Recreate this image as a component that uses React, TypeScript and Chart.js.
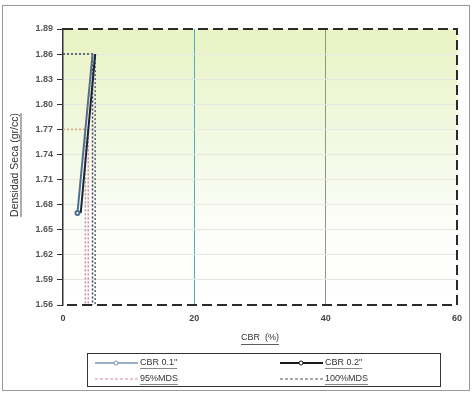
import React, { useEffect, useRef } from "react";
import { Chart, registerables } from "chart.js";

Chart.register(...registerables);

const xTicks = [0, 20, 40, 60];
const yTicks = [1.56, 1.59, 1.62, 1.65, 1.68, 1.71, 1.74, 1.77, 1.8, 1.83, 1.86, 1.89];
const cbr01X = [2.2, 4.5];
const cbr01Y = [1.67, 1.86];
const cbr02X = [2.7, 4.9];
const cbr02Y = [1.67, 1.86];
const mds95X = [0, 3.4, 3.4];
const mds95Y = [1.77, 1.77, 1.56];
const mds95bX = [3.85, 3.85];
const mds95bY = [1.77, 1.56];
const mds100X = [0, 4.5, 4.5];
const mds100Y = [1.86, 1.86, 1.56];
const mds100bX = [4.9, 4.9];
const mds100bY = [1.86, 1.56];
const legendLabels = ['CBR 0.1"', 'CBR 0.2"', "95%MDS", "100%MDS"];

const pts = (xs: number[], ys: number[]) => xs.map((x, i) => ({ x, y: ys[i] }));

const FONT = "'Liberation Sans', Arial, sans-serif";

const decorPlugin = {
  id: "decor",
  beforeDraw(chart: any) {
    const { ctx, chartArea: a } = chart;
    ctx.save();
    ctx.fillStyle = "#ffffff";
    ctx.fillRect(0, 0, chart.width, chart.height);
    const g = ctx.createLinearGradient(0, a.top, 0, a.bottom);
    g.addColorStop(0, "#e9f3c3");
    g.addColorStop(0.45, "#f4f9e6");
    g.addColorStop(0.75, "#fdfefb");
    g.addColorStop(1, "#ffffff");
    ctx.fillStyle = g;
    ctx.fillRect(a.left, a.top, a.right - a.left, a.bottom - a.top);
    ctx.strokeStyle = "#9a9a9a";
    ctx.lineWidth = 1;
    ctx.strokeRect(2.5, 5.5, 467, 385);
    ctx.restore();
  },
  afterDraw(chart: any) {
    const { ctx, chartArea: a } = chart;
    ctx.save();
    ctx.strokeStyle = "#2b2b2b";
    ctx.lineWidth = 2;
    ctx.setLineDash([10, 5]);
    ctx.beginPath();
    ctx.moveTo(a.left, a.top);
    ctx.lineTo(a.right, a.top);
    ctx.lineTo(a.right, a.bottom);
    ctx.lineTo(a.left, a.bottom);
    ctx.stroke();
    ctx.setLineDash([]);
    // x title
    ctx.fillStyle = "#333";
    ctx.font = `9px ${FONT}`;
    ctx.textAlign = "center";
    ctx.textBaseline = "middle";
    const tx = (a.left + a.right) / 2;
    ctx.fillText("CBR  (%)", tx, 338);
    const tw = ctx.measureText("CBR  (%)").width;
    ctx.lineWidth = 0.8;
    ctx.strokeStyle = "#333";
    ctx.beginPath();
    ctx.moveTo(tx - tw / 2, 344.5);
    ctx.lineTo(tx + tw / 2, 344.5);
    ctx.stroke();
    // y title
    ctx.save();
    ctx.translate(15, 165);
    ctx.rotate(-Math.PI / 2);
    ctx.font = `10.5px ${FONT}`;
    const yt = "Densidad Seca (gr/cc)";
    ctx.fillText(yt, 0, 0);
    const yw = ctx.measureText(yt).width;
    ctx.beginPath();
    ctx.moveTo(-yw / 2, 6);
    ctx.lineTo(yw / 2, 6);
    ctx.stroke();
    ctx.restore();
    // legend box
    ctx.strokeStyle = "#333";
    ctx.lineWidth = 1;
    ctx.strokeRect(87.5, 353.5, 353, 33);
    const items = [
      { x: 95, y: 363, color: "#7a97b5", dash: [] as number[], marker: true, label: legendLabels[0], w: 1.5 },
      { x: 280, y: 363, color: "#1a1a1a", dash: [] as number[], marker: true, label: legendLabels[1], w: 2 },
      { x: 95, y: 379, color: "#d9869e", dash: [3, 2], marker: false, label: legendLabels[2], w: 1 },
      { x: 280, y: 379, color: "#555", dash: [3, 2], marker: false, label: legendLabels[3], w: 1 },
    ];
    ctx.textAlign = "left";
    ctx.font = `9px ${FONT}`;
    for (const it of items) {
      ctx.strokeStyle = it.color;
      ctx.lineWidth = it.w;
      ctx.setLineDash(it.dash);
      ctx.beginPath();
      ctx.moveTo(it.x, it.y);
      ctx.lineTo(it.x + 43, it.y);
      ctx.stroke();
      ctx.setLineDash([]);
      if (it.marker) {
        ctx.fillStyle = "#fff";
        ctx.beginPath();
        ctx.arc(it.x + 21, it.y, 2, 0, Math.PI * 2);
        ctx.fill();
        ctx.lineWidth = 1;
        ctx.stroke();
      }
      ctx.fillStyle = "#333";
      ctx.fillText(it.label, it.x + 45, it.y);
      const w = ctx.measureText(it.label).width;
      ctx.strokeStyle = "#555";
      ctx.lineWidth = 0.7;
      ctx.beginPath();
      ctx.moveTo(it.x + 45, it.y + 5.5);
      ctx.lineTo(it.x + 45 + w, it.y + 5.5);
      ctx.stroke();
    }
    ctx.restore();
  },
};

export default function App() {
  const ref = useRef<HTMLCanvasElement | null>(null);
  useEffect(() => {
    document.body.style.margin = "0";
    const canvas = ref.current!;
    const chart = new Chart(canvas, {
      type: "scatter",
      data: {
        datasets: [
          {
            label: legendLabels[0],
            data: pts(cbr01X, cbr01Y),
            showLine: true,
            borderColor: "#4e6f95",
            borderWidth: 2,
            pointRadius: [2, 0],
            pointBackgroundColor: "#fff",
            pointBorderColor: "#4e6f95",
          },
          {
            label: legendLabels[1],
            data: pts(cbr02X, cbr02Y),
            showLine: true,
            borderColor: "#1f2330",
            borderWidth: 2,
            pointRadius: 0,
          },
          {
            label: legendLabels[2],
            data: pts(mds95X, mds95Y),
            showLine: true,
            borderColor: "#d9869e",
            borderWidth: 1.5,
            borderDash: [2, 2],
            pointRadius: 0,
            segment: {
              borderColor: (c: any) => (c.p0DataIndex === 0 ? "#d4a47a" : "#d9869e"),
            },
          },
          {
            label: legendLabels[2] + " b",
            data: pts(mds95bX, mds95bY),
            showLine: true,
            borderColor: "#c98aa8",
            borderWidth: 1.5,
            borderDash: [2, 2],
            pointRadius: 0,
          },
          {
            label: legendLabels[3],
            data: pts(mds100X, mds100Y),
            showLine: true,
            borderColor: "#3a3f55",
            borderWidth: 1.5,
            borderDash: [2, 2],
            pointRadius: 0,
          },
          {
            label: legendLabels[3] + " b",
            data: pts(mds100bX, mds100bY),
            showLine: true,
            borderColor: "#5a607a",
            borderWidth: 1.5,
            borderDash: [2, 2],
            pointRadius: 0,
          },
        ],
      },
      options: {
        animation: false,
        responsive: false,
        maintainAspectRatio: false,
        layout: { padding: { top: 29, right: 15, bottom: 0, left: 0 } },
        plugins: { legend: { display: false }, tooltip: { enabled: false } },
        scales: {
          x: {
            type: "linear",
            min: 0,
            max: 60,
            afterFit: (s: any) => { s.height = 89; },
            afterBuildTicks: (s: any) => { s.ticks = xTicks.map((v) => ({ value: v })); },
            border: { display: false },
            grid: {
              color: (c: any) => (c.tick && (c.tick.value === 20 || c.tick.value === 40) ? "#6fa3a0" : "rgba(0,0,0,0)"),
              lineWidth: 1,
              drawTicks: false,
            },
            ticks: { color: "#444", font: { family: FONT, size: 9, weight: "bold" }, padding: 8 },
          },
          y: {
            type: "linear",
            min: 1.56,
            max: 1.89,
            afterFit: (s: any) => { s.width = 63; },
            afterBuildTicks: (s: any) => { s.ticks = yTicks.map((v) => ({ value: v })); },
            border: { display: true, color: "#333", width: 1.5 },
            grid: {
              color: (c: any) => (c.tick && c.tick.value > 1.56 && c.tick.value < 1.89 ? "#e6e8e2" : "rgba(0,0,0,0)"),
              tickColor: "#333",
              tickLength: 6,
              lineWidth: 1,
            },
            ticks: {
              color: "#555",
              font: { family: FONT, size: 9, weight: "bold" },
              padding: 4,
              callback: (v: any) => Number(v).toFixed(2),
            },
          },
        },
      },
      plugins: [decorPlugin],
    } as any);
    return () => chart.destroy();
  }, []);
  return <canvas ref={ref} width={472} height={394} style={{ display: "block" }} />;
}
